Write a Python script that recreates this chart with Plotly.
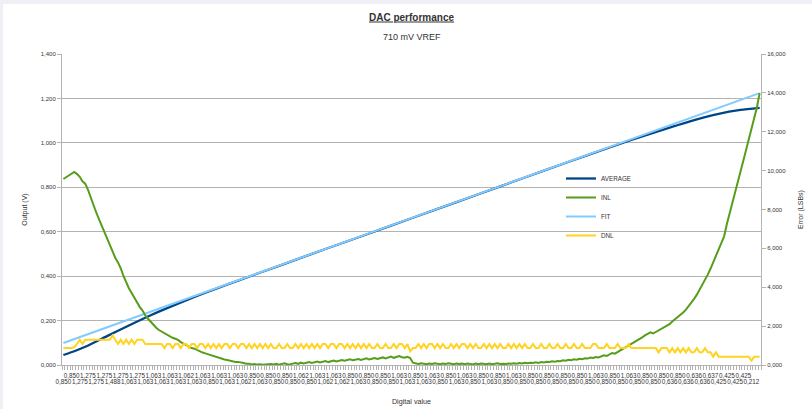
import plotly.graph_objects as go

# DAC code index (8-bit converter, 256 codes)
codes = list(range(256))

# Integral non-linearity per code, in LSBs
inl_lsb = [
    9.57, 9.66, 9.75, 9.86, 9.93, 9.82, 9.68, 9.45, 9.33, 9.02, 8.62, 8.20, 7.86, 7.52, 7.18, 6.83,
    6.45, 6.10, 5.78, 5.52, 5.28, 4.98, 4.58, 4.22, 3.95, 3.70, 3.45, 3.20, 2.98, 2.80, 2.55, 2.38,
    2.21, 2.08, 1.92, 1.80, 1.72, 1.62, 1.52, 1.48, 1.40, 1.35, 1.29, 1.18, 1.10, 1.02, 0.95, 0.87,
    0.84, 0.76, 0.72, 0.64, 0.60, 0.55, 0.51, 0.45, 0.44, 0.36, 0.34, 0.28, 0.26, 0.22, 0.20, 0.15,
    0.16, 0.11, 0.10, 0.06, 0.07, 0.03, 0.05, 0.02, 0.04, 0.01, 0.03, 0.02, 0.05, 0.03, 0.06, 0.02,
    0.05, 0.09, 0.04, 0.03, 0.07, 0.10, 0.06, 0.12, 0.08, 0.11, 0.15, 0.10, 0.14, 0.18, 0.13, 0.17,
    0.20, 0.15, 0.19, 0.23, 0.18, 0.21, 0.26, 0.22, 0.25, 0.29, 0.24, 0.27, 0.31, 0.26, 0.30, 0.34,
    0.28, 0.32, 0.36, 0.31, 0.35, 0.39, 0.34, 0.38, 0.43, 0.37, 0.42, 0.46, 0.40, 0.38, 0.42, 0.36,
    0.12, 0.08, 0.05, 0.09, 0.06, 0.04, 0.08, 0.05, 0.09, 0.06, 0.04, 0.08, 0.05, 0.09, 0.06, 0.04,
    0.08, 0.05, 0.07, 0.04, 0.08, 0.05, 0.03, 0.07, 0.04, 0.08, 0.05, 0.04, 0.07, 0.04, 0.06, 0.09,
    0.05, 0.07, 0.05, 0.08, 0.06, 0.09, 0.07, 0.10, 0.08, 0.11, 0.09, 0.12, 0.10, 0.14, 0.11, 0.15,
    0.13, 0.17, 0.15, 0.19, 0.17, 0.21, 0.19, 0.24, 0.22, 0.27, 0.25, 0.29, 0.27, 0.32, 0.30, 0.35,
    0.33, 0.38, 0.36, 0.41, 0.39, 0.44, 0.50, 0.47, 0.55, 0.62, 0.58, 0.66, 0.74, 0.82, 0.90, 0.98,
    1.06, 1.14, 1.22, 1.32, 1.42, 1.52, 1.60, 1.68, 1.62, 1.70, 1.78, 1.85, 1.92, 1.98, 2.10, 2.24,
    2.35, 2.44, 2.55, 2.70, 2.85, 3.02, 3.22, 3.40, 3.62, 3.86, 4.12, 4.40, 4.65, 4.95, 5.30, 5.65,
    5.95, 6.25, 6.62, 7.25, 7.82, 8.35, 8.90, 9.40, 9.95, 10.50, 11.05, 11.50, 12.05, 12.55, 13.25, 13.99,
]

# Differential non-linearity per code, in LSBs
dnl_lsb = [
    0.87, 0.87, 0.87, 0.87, 0.92, 1.08, 1.30, 1.08, 1.30, 1.30, 1.30, 1.30, 1.30, 1.30, 1.30, 1.30,
    1.30, 1.30, 1.52, 1.30, 1.08, 1.30, 1.08, 1.30, 1.08, 1.30, 1.08, 1.30, 1.30, 1.30, 1.08, 1.08,
    1.08, 1.08, 1.08, 1.08, 1.08, 0.87, 1.08, 1.08, 0.87, 1.08, 1.08, 0.87, 1.08, 1.08, 0.87, 1.08,
    1.08, 0.87, 1.08, 1.08, 0.87, 1.08, 0.87, 1.08, 0.87, 1.08, 0.87, 1.08, 1.08, 0.87, 1.08, 1.08,
    0.87, 1.08, 1.08, 0.87, 1.08, 0.87, 1.08, 0.87, 1.08, 0.87, 1.08, 0.87, 1.08, 0.87, 0.87, 1.08,
    0.87, 0.87, 1.08, 0.87, 0.87, 1.08, 0.87, 1.08, 0.87, 1.08, 0.87, 1.08, 0.87, 1.08, 0.87, 1.08,
    1.08, 0.87, 1.08, 1.08, 0.87, 1.08, 1.08, 0.87, 1.08, 0.87, 1.08, 0.87, 1.08, 0.87, 1.08, 0.87,
    1.08, 0.87, 0.87, 1.08, 0.87, 0.87, 1.08, 0.87, 0.87, 1.08, 0.87, 1.08, 1.08, 0.87, 1.08, 0.70,
    0.87, 0.87, 1.08, 0.87, 1.08, 0.87, 1.08, 1.08, 0.87, 1.08, 0.87, 1.08, 0.87, 0.87, 1.08, 0.87,
    1.08, 0.87, 1.08, 1.08, 0.87, 1.08, 0.87, 1.08, 0.87, 0.87, 1.08, 0.87, 1.08, 0.87, 1.08, 0.87,
    1.08, 0.87, 0.87, 1.08, 0.87, 1.08, 0.87, 1.08, 0.87, 1.08, 0.87, 0.87, 1.08, 0.87, 0.87, 1.08,
    0.87, 0.87, 1.08, 0.87, 0.87, 1.08, 0.87, 0.87, 1.08, 0.87, 0.87, 1.08, 0.87, 0.87, 1.08, 0.87,
    0.87, 0.87, 1.08, 1.08, 0.87, 0.87, 0.87, 1.08, 0.87, 0.87, 0.87, 1.08, 0.87, 0.87, 0.87, 1.08,
    0.87, 0.87, 0.87, 0.87, 0.87, 0.87, 0.87, 0.87, 0.87, 0.87, 0.65, 0.87, 0.87, 0.87, 0.65, 0.87,
    0.65, 0.87, 0.65, 0.87, 0.65, 0.87, 0.65, 0.65, 0.87, 0.65, 0.65, 0.87, 0.65, 0.65, 0.43, 0.65,
    0.43, 0.43, 0.43, 0.43, 0.43, 0.43, 0.43, 0.43, 0.43, 0.43, 0.43, 0.43, 0.22, 0.43, 0.43, 0.43,
]

# Averaged measured output voltage (V)
avg_codes = [0, 4, 8, 16, 24, 32, 40, 48, 56, 64, 80, 96, 112, 128, 144, 160, 176, 192,
             200, 208, 216, 224, 232, 240, 248, 255]
avg_volts = [0.045, 0.062, 0.082, 0.130, 0.178, 0.224, 0.266, 0.306, 0.344, 0.380, 0.451,
             0.522, 0.592, 0.663, 0.733, 0.804, 0.875, 0.945, 0.979, 1.013, 1.045, 1.076,
             1.106, 1.131, 1.148, 1.157]

# Straight-line fit of the output (V)
fit_codes = [0, 64, 128, 192, 255]
fit_volts = [0.099, 0.381, 0.664, 0.946, 1.224]

# Step-size category labels, shown on every third code in two staggered rows
upper_row_codes = list(range(3, 253, 6))
upper_row_labels = [
    "0,850", "1,275", "1,275", "1,275", "1,275", "1,063", "1,063", "1,062", "1,063", "1,063",
    "1,063", "0,850", "0,850", "0,850", "1,062", "1,063", "1,063", "0,850", "0,850", "0,850",
    "1,063", "0,850", "1,063", "0,850", "1,063", "0,850", "0,850", "1,063", "0,850", "0,850",
    "0,850", "0,850", "1,063", "0,850", "1,063", "0,850", "0,850", "0,850", "0,636", "0,637",
    "0,425", "0,425",
]
lower_row_codes = list(range(0, 253, 6))
lower_row_labels = [
    "0,850", "1,275", "1,275", "1,488", "1,063", "1,063", "1,063", "1,063", "1,063", "0,850",
    "1,063", "1,062", "1,063", "0,850", "0,850", "0,850", "1,062", "1,062", "1,063", "0,850",
    "0,850", "1,063", "1,063", "0,850", "1,063", "0,850", "1,063", "0,850", "0,850", "0,850",
    "0,850", "0,850", "0,850", "0,850", "0,850", "0,850", "0,850", "0,636", "0,636", "0,636",
    "0,425", "0,425", "0,212",
]

FONT = "Liberation Sans, Arial, sans-serif"
GRID = "#b3b3b3"
TXT = "#333333"
X_RANGE = [-0.5, 255.5]

fig = go.Figure()
fig.add_trace(go.Scatter(x=avg_codes, y=avg_volts, name="AVERAGE", mode="lines",
                         line=dict(color="#004586", width=2.3, shape="spline", smoothing=0.6)))
fig.add_trace(go.Scatter(x=codes, y=inl_lsb, name="INL", mode="lines", xaxis="x2", yaxis="y2",
                         line=dict(color="#579D1C", width=2)))
fig.add_trace(go.Scatter(x=fit_codes, y=fit_volts, name="FIT", mode="lines",
                         line=dict(color="#83CAFF", width=2)))
fig.add_trace(go.Scatter(x=codes, y=dnl_lsb, name="DNL", mode="lines", xaxis="x2", yaxis="y2",
                         line=dict(color="#FFD320", width=2)))

# light frame strips along the top and left page edges
PW, PH = 699, 311
fig.add_shape(type="rect", xref="paper", yref="paper", x0=-62 / PW, x1=751 / PW,
              y0=(365 - 4) / PH, y1=(365 + 1) / PH + 54 / PH, fillcolor="#eef0f6",
              line_width=0, layer="below")
fig.add_shape(type="rect", xref="paper", yref="paper", x0=-63 / PW, x1=-59 / PW,
              y0=-45 / PH, y1=(365 + 1) / PH, fillcolor="#eef0f6", line_width=0, layer="below")

fig.update_layout(
    width=812, height=409,
    margin=dict(l=62, r=51, t=54, b=44),
    paper_bgcolor="white", plot_bgcolor="white",
    separators=",.",
    font=dict(family=FONT, color=TXT, size=7),
    title=dict(text="DAC performance", x=0.5, xref="paper", y=1 - 17 / 409,
               yref="container", yanchor="middle", xanchor="center",
               font=dict(size=10, weight="bold", lineposition="under", color=TXT)),
    annotations=[dict(text="710 mV VREF", x=0.5, xref="paper", y=1 + (54 - 37) / 311,
                      yref="paper", showarrow=False, yanchor="middle",
                      font=dict(size=9, color=TXT))],
    showlegend=True,
    legend=dict(x=(561 - 62) / 699, xanchor="left", y=(365 - 207) / 311, yanchor="middle",
                bgcolor="rgba(0,0,0,0)", font=dict(size=6.3, color=TXT),
                itemwidth=30, tracegroupgap=0),
    xaxis=dict(
        range=X_RANGE, tickmode="array", tickvals=upper_row_codes, ticktext=upper_row_labels,
        tickangle=0, ticks="", tickfont=dict(size=6.3, color=TXT), ticklabelstandoff=4,
        showline=True, linecolor=GRID, linewidth=1, showgrid=False, zeroline=False,
        automargin=False,
        minor=dict(tickmode="linear", tick0=-0.5, dtick=1, ticks="outside",
                   ticklen=4, tickcolor=GRID, showgrid=False),
        title=dict(text="Digital value", font=dict(size=7.2, color=TXT), standoff=21),
    ),
    xaxis2=dict(
        range=X_RANGE, overlaying="x", side="bottom", anchor="y", tickmode="array",
        tickvals=lower_row_codes, ticktext=lower_row_labels, tickangle=0, ticks="",
        tickfont=dict(size=6.3, color=TXT), ticklabelstandoff=12, automargin=False,
        showline=False, showgrid=False, zeroline=False,
    ),
    yaxis=dict(
        range=[0, 1.4], dtick=0.2, tick0=0, tickformat=".3f",
        showline=True, linecolor=GRID, linewidth=1, automargin=False,
        showgrid=True, gridcolor=GRID, gridwidth=1, zeroline=False,
        ticks="outside", ticklen=4, tickcolor=GRID, tickfont=dict(size=6, color=TXT),
        title=dict(text="Output (V)", font=dict(size=7, color=TXT), standoff=12),
    ),
    yaxis2=dict(
        range=[0, 16], dtick=2, tick0=0, tickformat=".3f", overlaying="y", side="right",
        anchor="x", automargin=False,
        showline=True, linecolor=GRID, linewidth=1, showgrid=False, zeroline=False,
        ticks="outside", ticklen=4, tickcolor=GRID, tickfont=dict(size=6, color=TXT),
        title=dict(text="Error (LSBs)", font=dict(size=7, color=TXT), standoff=12),
    ),
)

fig.write_html("out.html")
